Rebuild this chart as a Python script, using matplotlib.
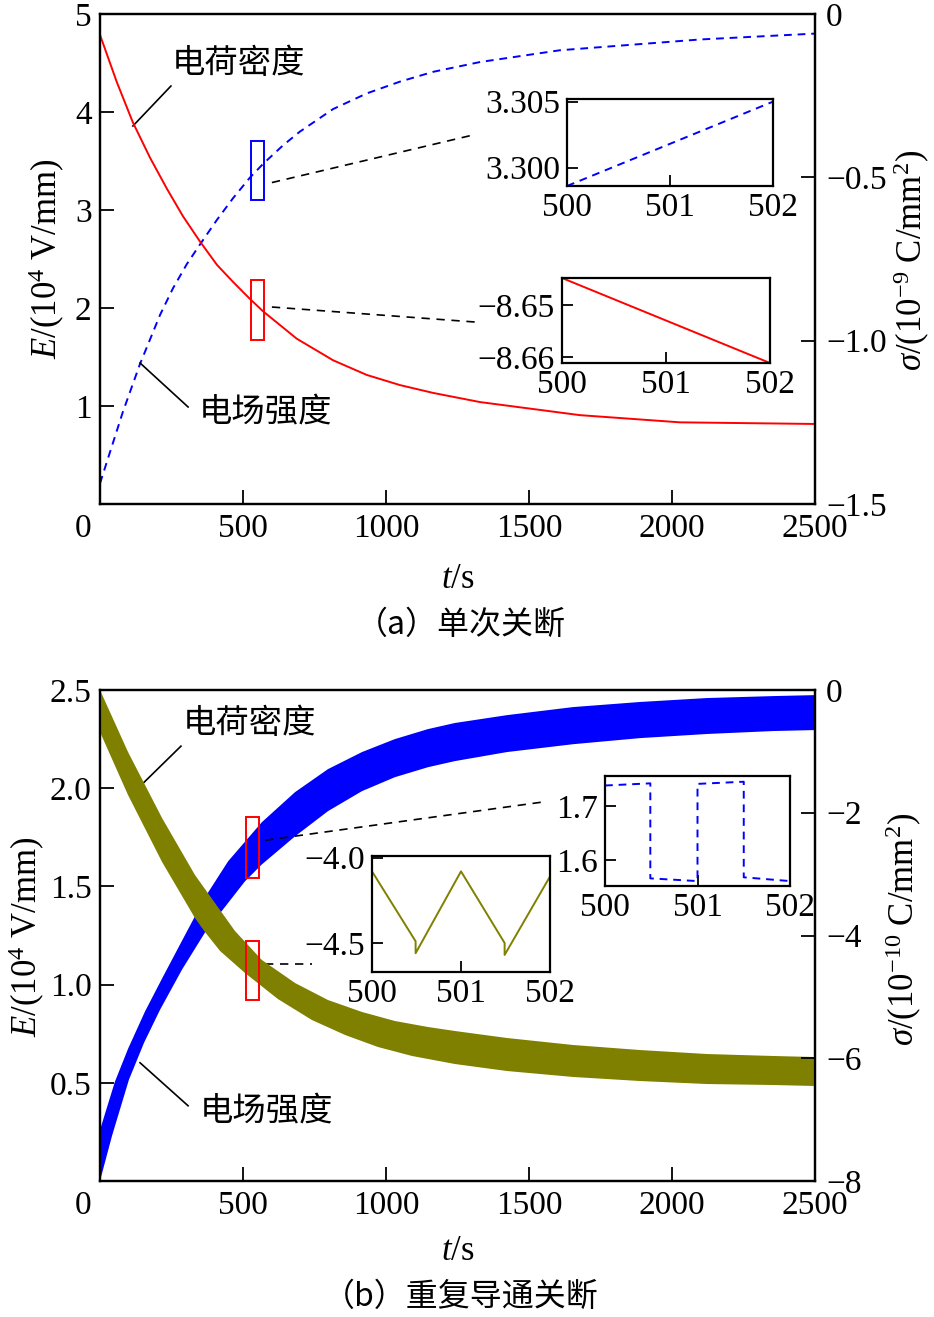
import numpy as np
import matplotlib
matplotlib.use('Agg')
import matplotlib.pyplot as plt
from matplotlib.patches import Rectangle

plt.rcParams['font.family'] = ['Liberation Serif', 'Noto Sans CJK SC', 'DejaVu Sans']
plt.rcParams['mathtext.fontset'] = 'custom'
plt.rcParams['mathtext.rm'] = 'Liberation Serif'
plt.rcParams['mathtext.it'] = 'Liberation Serif:italic'
plt.rcParams['mathtext.bf'] = 'Liberation Serif:bold'
plt.rcParams['axes.unicode_minus'] = True

CJK = ['Noto Sans CJK SC', 'DejaVu Sans']

# ---------------- data: panel (a) single turn-off ----------------
tA_E = [0, 35, 80, 140, 210, 255, 304, 350, 409, 465, 524, 570, 640, 699, 815, 933,
        1049, 1165, 1329, 1608, 2098, 2500]
E_A = [0.21, 0.53, 0.94, 1.43, 1.93, 2.20, 2.45, 2.65, 2.90, 3.12, 3.33, 3.47, 3.66, 3.80,
       4.03, 4.19, 4.31, 4.41, 4.51, 4.63, 4.74, 4.80]
tA_s = [0, 59, 115, 175, 234, 290, 350, 409, 465, 524, 570, 688, 815, 933, 1049, 1165,
        1329, 1678, 2028, 2500]
sig_A = [-0.064, -0.209, -0.332, -0.440, -0.535, -0.619, -0.697, -0.768, -0.820, -0.872,
         -0.910, -0.994, -1.060, -1.105, -1.136, -1.160, -1.188, -1.228, -1.250, -1.255]

# zoom insets (a)
tA_zoom = [500, 502]
E_A_zoom = [3.2986, 3.3050]
sig_A_zoom = [-8.6448, -8.6612]

# ---------------- data: panel (b) repeated on/off ----------------
tB_Eup = [0, 52, 98, 157, 217, 287, 367, 448, 566, 682, 797, 916, 1031, 1147, 1241, 1423,
          1654, 1888, 2122, 2353, 2500]
E_B_up = [0.260, 0.505, 0.673, 0.862, 1.031, 1.224, 1.444, 1.628, 1.827, 1.980, 2.097,
          2.184, 2.250, 2.301, 2.332, 2.372, 2.413, 2.439, 2.459, 2.469, 2.474]
tB_Elo = [0, 42, 101, 154, 210, 287, 367, 507, 566, 682, 797, 916, 1031, 1147, 1241, 1423,
          1654, 1888, 2122, 2353, 2500]
E_B_lo = [0.0, 0.230, 0.515, 0.704, 0.872, 1.077, 1.265, 1.526, 1.612, 1.755, 1.883, 1.985,
          2.056, 2.107, 2.138, 2.184, 2.224, 2.255, 2.276, 2.291, 2.296]
tB_sup = [0, 98, 217, 332, 472, 566, 682, 797, 916, 1031, 1147, 1241, 1423, 1654, 1888,
          2122, 2353, 2500]
sig_B_up = [0.0, -1.010, -2.086, -3.014, -3.927, -4.399, -4.774, -5.051, -5.246, -5.393,
            -5.491, -5.556, -5.670, -5.784, -5.866, -5.931, -5.963, -5.980]
tB_slo = [0, 98, 217, 332, 367, 420, 507, 622, 741, 857, 972, 1091, 1241, 1423, 1654, 1888,
          2122, 2353, 2500]
sig_B_lo = [-0.684, -1.711, -2.802, -3.715, -3.943, -4.253, -4.611, -5.035, -5.377, -5.621,
            -5.817, -5.963, -6.094, -6.208, -6.305, -6.371, -6.420, -6.436, -6.452]

# zoom insets (b)
tB_sz = [500, 500.49, 500.49, 501.0, 501.49, 501.49, 502.0]
sig_B_zoom = [-4.08, -4.49, -4.56, -4.08, -4.50, -4.57, -4.11]
tB_Ez = [500, 500.49, 500.49, 501.0, 501.0, 501.5, 501.5, 502.0]
E_B_zoom = [1.738, 1.742, 1.566, 1.561, 1.741, 1.745, 1.568, 1.561]

# tick labels
xticks_main = [0, 500, 1000, 1500, 2000, 2500]
xtick_labels = ['', '500', '1000', '1500', '2000', '2500']
zoom_xticks = [500, 501, 502]

BLUE = '#0000FF'
RED = '#FF0000'
OLIVE = '#808000'
FS = 24

W, H = 934, 1317
fig = plt.figure(figsize=(W / 100, H / 100), dpi=100)


def frac_rect(x0, y0, x1, y1):
    return [x0 / W, 1 - y1 / H, (x1 - x0) / W, (y1 - y0) / H]


def style_main(ax, ax2):
    for a in (ax, ax2):
        for s in a.spines.values():
            s.set_linewidth(1.6)
    ax.set_xticks(xticks_main)
    ax.set_xticklabels(xtick_labels)
    ax.tick_params(axis='x', direction='in', length=10, width=1.3, labelsize=FS, pad=7,
                   top=False)
    ax.tick_params(axis='y', direction='in', length=10, width=1.3, labelsize=FS, pad=6,
                   right=False)
    ax2.tick_params(axis='y', direction='in', length=10, width=1.3, labelsize=FS, pad=8)
    ax.annotate('0', xy=(0, 0), xycoords=('data', 'axes fraction'),
                xytext=(-12.5, -7), textcoords='offset points', ha='center', va='top',
                fontsize=FS)


def make_zoom(rect, ylim, yticks, fmt):
    ax = fig.add_axes(rect)
    ax.set_xlim(500, 502)
    ax.set_ylim(*ylim)
    ax.set_xticks(zoom_xticks)
    ax.set_yticks(yticks)
    ax.set_yticklabels([fmt.format(v).replace('-', '\u2212') for v in yticks])
    ax.tick_params(direction='in', length=8, width=1.3, labelsize=FS, pad=5,
                   top=False, right=False)
    for s in ax.spines.values():
        s.set_linewidth(1.6)
    return ax


# ======================= panel (a) =======================
axA = fig.add_axes(frac_rect(100, 14, 815, 504))
axA.set_xlim(0, 2500)
axA.set_ylim(0, 5)
axA.set_yticks([1, 2, 3, 4, 5])
axA2 = axA.twinx()
axA2.set_ylim(-1.5, 0)
axA2.set_yticks([0, -0.5, -1.0, -1.5])
axA2.set_yticklabels(['0', '\u22120.5', '\u22121.0', '\u22121.5'])
style_main(axA, axA2)

axA.plot(tA_E, E_A, color=BLUE, lw=1.4, ls=(0, (4, 3)))
axA2.plot(tA_s, sig_A, color=RED, lw=1.4)

axA.add_patch(Rectangle((528, 3.10), 45, 0.60, fill=False, ec=BLUE, lw=1.4))
axA.add_patch(Rectangle((528, 1.67), 45, 0.62, fill=False, ec=RED, lw=1.4))
axA.plot([601, 1311], [3.28, 3.77], color='k', lw=1.2, ls=(0, (5, 4)))
axA.plot([601, 1311], [2.01, 1.857], color='k', lw=1.2, ls=(0, (5, 4)))

axA.plot([115, 248], [3.857, 4.265], color='k', lw=1.2)
axA.text(252, 4.5, '电荷密度', family=CJK, fontsize=FS, ha='left', va='center')
axA.plot([140, 308], [1.439, 0.99], color='k', lw=1.2)
axA.text(346, 0.939, '电场强度', family=CJK, fontsize=FS, ha='left', va='center')

fig.text(458 / W, 1 - 580 / H, r'$t$/s', fontsize=25, ha='center', va='center')
fig.text(47 / W, 1 - 259 / H, r'$E$/(10$^{4}$ V/mm)', fontsize=25, rotation=90,
         ha='center', va='center')
fig.text(912 / W, 1 - 260 / H, r'$\sigma$/(10$^{-9}$ C/mm$^{2}$)', fontsize=25,
         rotation=90, ha='center', va='center')
fig.text(461 / W, 1 - 625 / H, '（a）单次关断', family=CJK, fontsize=23,
         ha='center', va='center')

zA1 = make_zoom(frac_rect(567, 99, 773, 186), (3.2986, 3.3052), [3.300, 3.305], '{:.3f}')
zA1.plot(tA_zoom, E_A_zoom, color=BLUE, lw=1.4, ls=(0, (4, 3)))
zA2 = make_zoom(frac_rect(562, 278, 770, 363), (-8.6612, -8.6448), [-8.66, -8.65], '{:.2f}')
zA2.plot(tA_zoom, sig_A_zoom, color=RED, lw=1.4)

# ======================= panel (b) =======================
axB = fig.add_axes(frac_rect(100, 690, 815, 1181))
axB.set_xlim(0, 2500)
axB.set_ylim(0, 2.5)
axB.set_yticks([0.5, 1.0, 1.5, 2.0, 2.5])
axB.set_yticklabels(['0.5', '1.0', '1.5', '2.0', '2.5'])
axB2 = axB.twinx()
axB2.set_ylim(-8, 0)
axB2.set_yticks([0, -2, -4, -6, -8])
axB2.set_yticklabels(['0', '\u22122', '\u22124', '\u22126', '\u22128'])
style_main(axB, axB2)

axB.fill(np.concatenate([tB_Eup, tB_Elo[::-1]]), np.concatenate([E_B_up, E_B_lo[::-1]]),
         color=BLUE, lw=0)
axB2.fill(np.concatenate([tB_sup, tB_slo[::-1]]), np.concatenate([sig_B_up, sig_B_lo[::-1]]),
          color=OLIVE, lw=0)

axB.add_patch(Rectangle((510, 1.541), 46, 0.311, fill=False, ec=RED, lw=1.4, zorder=5))
axB2.add_patch(Rectangle((510, -(941 - 690) / 491 * 8), 46, -(59 / 491) * 8, fill=False,
                         ec=RED, lw=1.4, zorder=5))
axB.plot([577, 1545], [1.735, 1.929], color='k', lw=1.2, ls=(0, (5, 4)))
axB.plot([577, 741], [1.107, 1.107], color='k', lw=1.2, ls=(0, (5, 4)))

axB.plot([147, 283], [2.02, 2.214], color='k', lw=1.2)
axB.text(290, 2.327, '电荷密度', family=CJK, fontsize=FS, ha='left', va='center')
axB.plot([140, 308], [0.602, 0.383], color='k', lw=1.2)
axB.text(350, 0.357, '电场强度', family=CJK, fontsize=FS, ha='left', va='center')

fig.text(458 / W, 1 - 1252 / H, r'$t$/s', fontsize=25, ha='center', va='center')
fig.text(27 / W, 1 - 937 / H, r'$E$/(10$^{4}$ V/mm)', fontsize=25, rotation=90,
         ha='center', va='center')
fig.text(904 / W, 1 - 929 / H, r'$\sigma$/(10$^{-10}$ C/mm$^{2}$)', fontsize=25,
         rotation=90, ha='center', va='center')
fig.text(461 / W, 1 - 1297 / H, '（b）重复导通关断', family=CJK, fontsize=23,
         ha='center', va='center')

zB1 = make_zoom(frac_rect(372, 856, 550, 972), (-4.67, -3.99), [-4.5, -4.0], '{:.1f}')
zB1.plot(tB_sz, sig_B_zoom, color=OLIVE, lw=1.4)
zB2 = make_zoom(frac_rect(605, 776, 790, 886), (1.5519, 1.7556), [1.6, 1.7], '{:.1f}')
zB2.plot(tB_Ez, E_B_zoom, color=BLUE, lw=1.4, ls=(0, (4, 3)))

fig.savefig('out.png', dpi=100)
